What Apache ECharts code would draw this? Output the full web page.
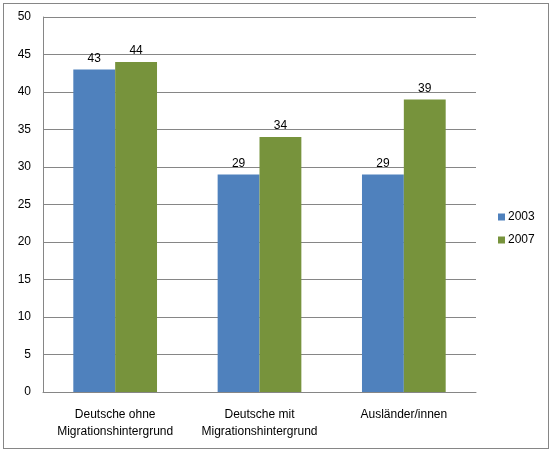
<!DOCTYPE html>
<html><head><meta charset="utf-8">
<script src="https://cdn.jsdelivr.net/npm/echarts@6/dist/echarts.min.js"></script>
<style>html,body{margin:0;padding:0;background:#fff}#c{width:553px;height:453px}
#frame{position:absolute;left:3px;top:3px;width:546px;height:446px;border:1px solid #868686;box-sizing:border-box;pointer-events:none}</style>
</head><body><div id="c"></div><div id="frame"></div>
<script>
const categories = ['Deutsche ohne\nMigrationshintergrund', 'Deutsche mit\nMigrationshintergrund', 'Ausländer/innen'];
const seriesNames = ['2003', '2007'];
const values2003 = [43, 29, 29];
const values2007 = [44, 34, 39];
const chart = echarts.init(document.getElementById('c'), null, {renderer: 'canvas'});
const font = 'Liberation Sans, Arial, sans-serif';
chart.setOption({
  animation: false,
  grid: {left: 43, right: 77, top: 17, bottom: 61},
  legend: {
    orient: 'vertical', left: 493, top: 206, itemWidth: 7, itemHeight: 7, itemGap: 11,
    icon: 'rect',
    textStyle: {fontFamily: font, fontSize: 12, color: '#000', padding: [0,0,0,-2]},
    data: seriesNames
  },
  xAxis: {
    type: 'category', data: categories,
    axisLine: {lineStyle: {color: '#868686'}},
    axisTick: {show: false},
    axisLabel: {fontFamily: font, fontSize: 12, color: '#000', lineHeight: 17, margin: 14, interval: 0}
  },
  yAxis: {
    type: 'value', min: 0, max: 50, interval: 5,
    axisLine: {show: true, lineStyle: {color: '#868686'}},
    axisTick: {show: false},
    splitLine: {lineStyle: {color: '#868686'}},
    axisLabel: {fontFamily: font, fontSize: 12, color: '#000', margin: 12}
  },
  series: [
    {name: seriesNames[0], type: 'bar', data: values2003, barWidth: '29%', barGap: '0%',
     itemStyle: {color: '#4F81BD'},
     label: {show: true, position: 'top', fontFamily: font, fontSize: 12, color: '#000', distance: 5}},
    {name: seriesNames[1], type: 'bar', data: values2007, barWidth: '29%', barGap: '0%',
     itemStyle: {color: '#77933C'},
     label: {show: true, position: 'top', fontFamily: font, fontSize: 12, color: '#000', distance: 5}}
  ]
});
</script></body></html>
